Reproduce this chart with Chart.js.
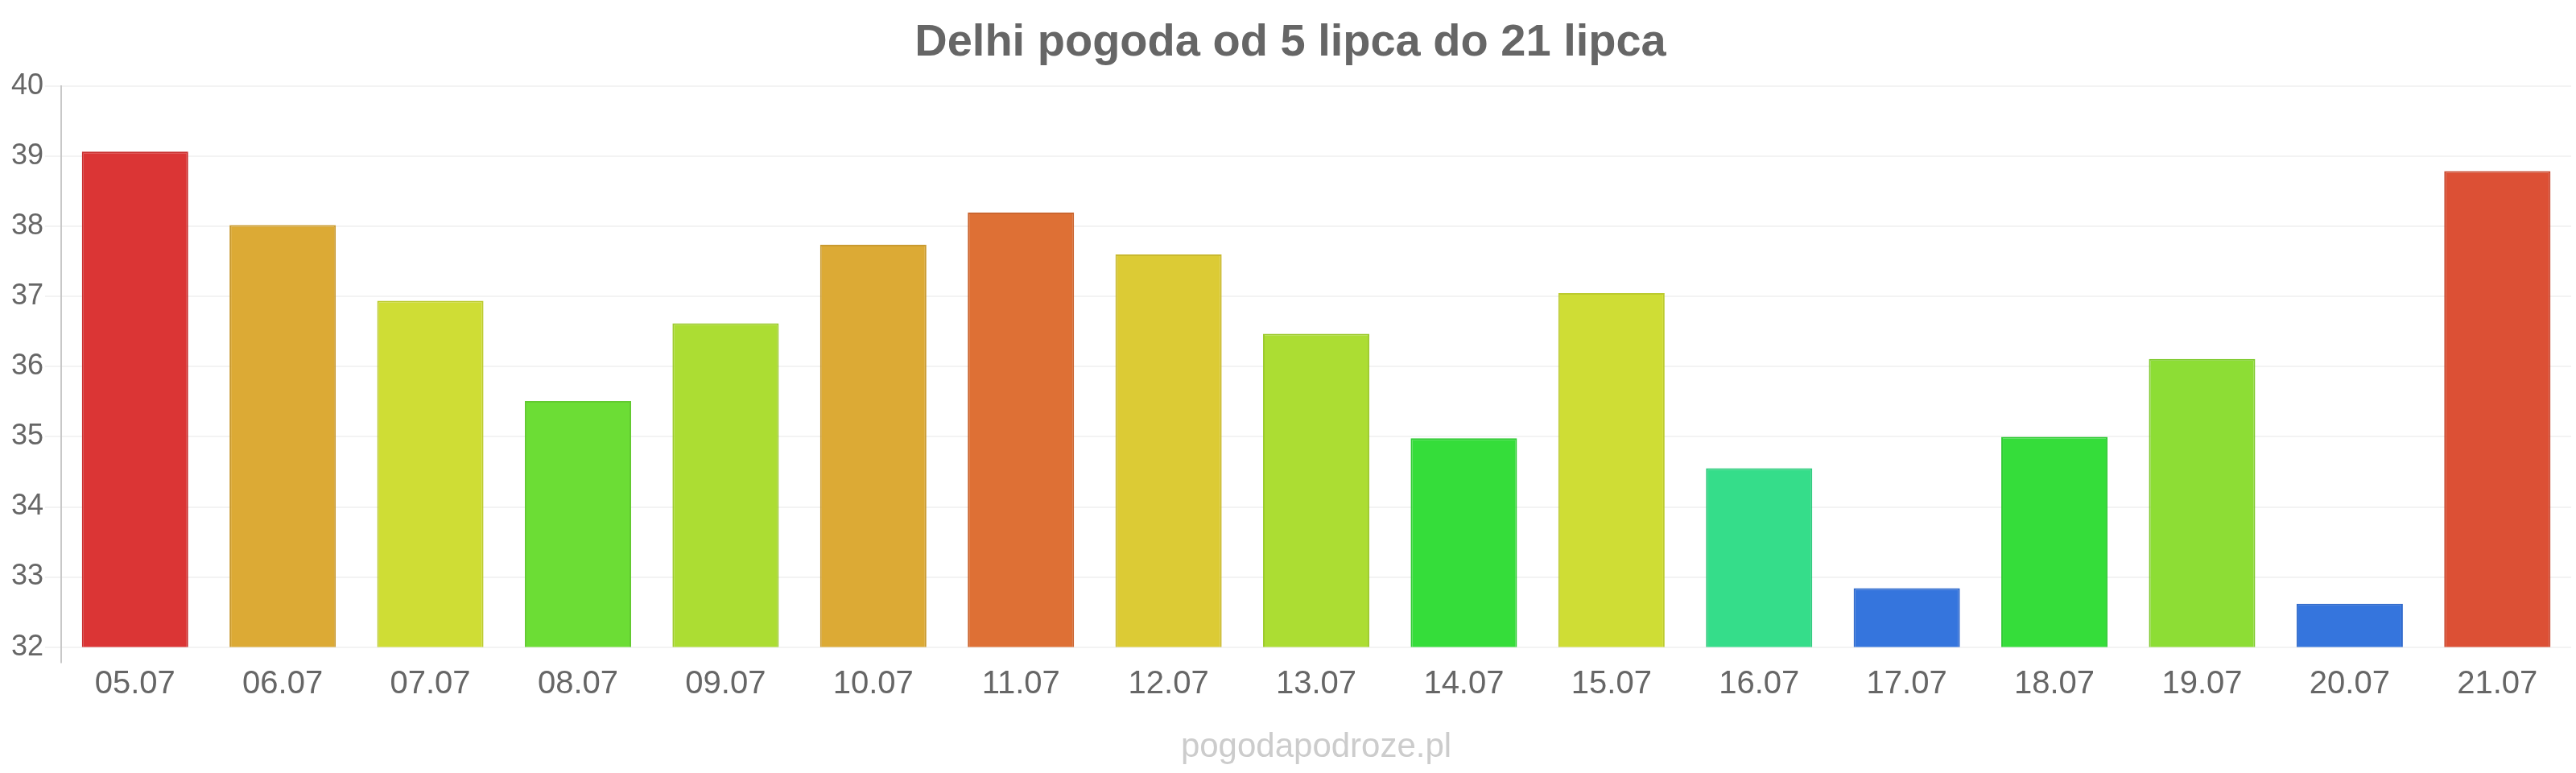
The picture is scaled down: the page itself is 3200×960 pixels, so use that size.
<!DOCTYPE html>
<html>
<head>
<meta charset="utf-8">
<script src="https://cdn.jsdelivr.net/npm/chart.js@4"></script>
<style>
  html, body { margin: 0; padding: 0; background: #fff; }
  .chart-container { width: 3200px; height: 960px; }
</style>
</head>
<body>
<div class="chart-container">
  <canvas id="chart"></canvas>
</div>
<script>
const labels = ["05.07", "06.07", "07.07", "08.07", "09.07", "10.07", "11.07", "12.07", "13.07",
  "14.07", "15.07", "16.07", "17.07", "18.07", "19.07", "20.07", "21.07"];
const temps = [39.07, 38.02, 36.94, 35.51, 36.62, 37.74, 38.2, 37.6, 36.47,
  34.98, 37.05, 34.55, 32.84, 35.0, 36.11, 32.62, 38.79];
const barColors = ["#db3535", "#dcaa35", "#cfdd35", "#6cdd35", "#acdd33", "#dcaa35", "#de7035", "#dccb35", "#acdd33",
  "#35dd3a", "#cfdd35", "#35dd8a", "#3575dd", "#35dd3a", "#8ddd35", "#3575dd", "#dc5035"];
const borderColors = ["#c92f2f", "#c99a2f", "#bccb2f", "#62ca30", "#9dca2e", "#c99a2f", "#cb652f", "#c9b92f", "#9dca2e",
  "#30ca35", "#bccb2f", "#30ca7e", "#2f69cb", "#30ca35", "#80ca30", "#2f69cb", "#c9482f"];
const yTicks = [32, 33, 34, 35, 36, 37, 38, 39, 40];

const ctx = document.getElementById("chart").getContext("2d");
new Chart(ctx, {
  type: "bar",
  data: {
    labels: labels,
    datasets: [
      {
        label: "Temperatura",
        data: temps,
        backgroundColor: barColors,
        borderColor: borderColors,
        borderWidth: 2,
      },
    ],
  },
  options: {
    responsive: true,
    maintainAspectRatio: false,
    animation: false,
    layout: { padding: { left: 12, right: 6, top: 0, bottom: 0 } },
    plugins: {
      legend: { display: false },
      tooltip: { enabled: false },
      title: {
        display: true,
        text: "Delhi pogoda od 5 lipca do 21 lipca",
        color: "#666",
        font: { family: "'Liberation Sans', Arial, sans-serif", size: 56, weight: "bold" },
        padding: { top: 20, bottom: 20 },
      },
    },
    scales: {
      x: {
        grid: {
          drawOnChartArea: false,
          tickLength: 20,
          color: (c) => (c.index === 0 ? "#c8c8c8" : "rgba(0,0,0,0)"),
          lineWidth: 2,
        },
        border: { display: false },
        ticks: {
          color: "#666",
          padding: 2,
          font: { family: "'Liberation Sans', Arial, sans-serif", size: 40 },
        },
        title: {
          display: true,
          text: "pogodapodroze.pl",
          color: "#ccc",
          font: { family: "'Liberation Sans', Arial, sans-serif", size: 42 },
          padding: { top: 28, bottom: 6 },
        },
      },
      y: {
        min: yTicks[0],
        max: yTicks[yTicks.length - 1],
        afterBuildTicks: (axis) => {
          axis.ticks = yTicks.map((v) => ({ value: v }));
        },
        grid: { color: "#f3f3f3", lineWidth: 2, tickLength: 20 },
        border: { display: true, color: "#c8c8c8", width: 2 },
        ticks: {
          color: "#666",
          padding: 2,
          font: { family: "'Liberation Sans', Arial, sans-serif", size: 36 },
        },
      },
    },
  },
});
</script>
</body>
</html>
